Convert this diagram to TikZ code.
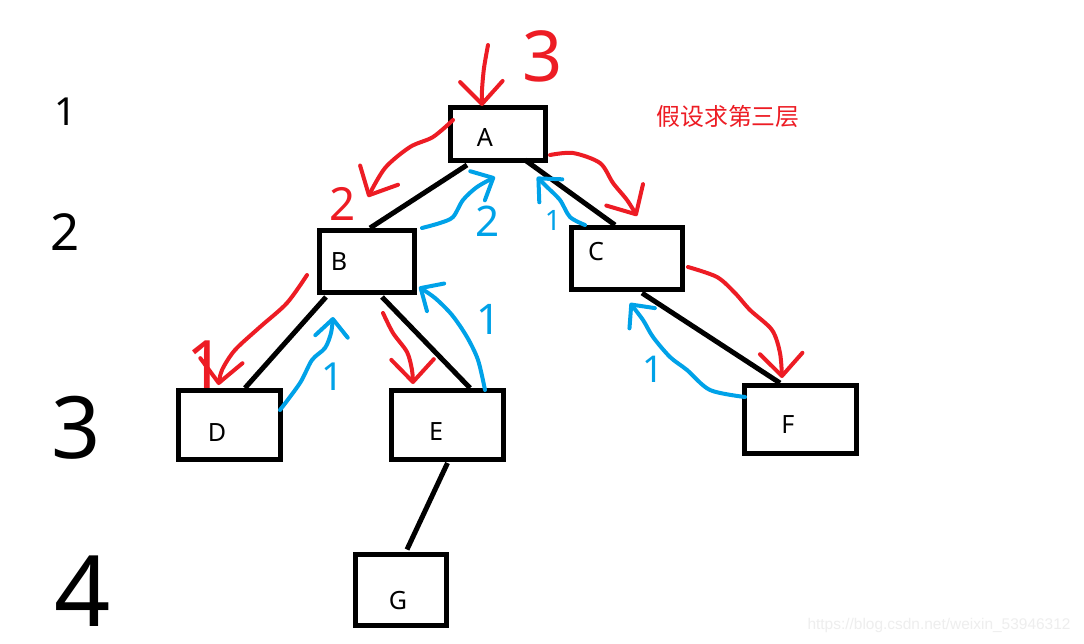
\documentclass[tikz,border=0pt]{standalone}
\usepackage{fontspec}
\usepackage{xcolor}
\usepackage{tikz}
\usetikzlibrary{arrows.meta, positioning, calc}
\setmainfont{Noto Sans}
\newfontfamily\cjkfont{Noto Sans CJK SC}
\newfontfamily\urlfont{Liberation Sans}
\definecolor{penred}{RGB}{237, 28, 36}
\definecolor{penblue}{RGB}{0, 162, 232}
\definecolor{marktext}{RGB}{238, 238, 238}

\begin{document}
\begin{tikzpicture}[x=0.02cm, y=-0.02cm,
    treebox/.style={draw, line width=0.1cm},
    boxletter/.style={font=\fontsize{14.3}{16}\selectfont, inner sep=0pt},
    edge/.style={line width=0.1cm},
    redpen/.style={draw=penred, line width=0.08cm, line cap=round, line join=round,
        -{Straight Barb[length=0.45cm, width=0.85cm, round]}},
    bluepen/.style={draw=penblue, line width=0.08cm, line cap=round, line join=round,
        -{Straight Barb[length=0.35cm, width=0.65cm, round]}},
    penmark/.style={font=\fontsize{#1}{#1}\selectfont, inner sep=0pt}]
    \path[use as bounding box, fill=white] (0,0) rectangle (1084,643);

    \node[treebox, minimum width=1.90cm, minimum height=1.06cm,
          label={[boxletter, shift={(-13,3)}]center:A}] (A) at (498,134) {};
    \node[treebox, minimum width=1.90cm, minimum height=1.24cm,
          label={[boxletter, shift={(-28,0.5)}]center:B}] (B) at (367,261.5) {};
    \node[treebox, minimum width=2.22cm, minimum height=1.24cm,
          label={[boxletter, shift={(-31,-6.5)}]center:C}] (C) at (627,258.5) {};
    \node[treebox, minimum width=2.04cm, minimum height=1.38cm,
          label={[boxletter, shift={(-12.5,8)}]center:D}] (D) at (229.5,425) {};
    \node[treebox, minimum width=2.24cm, minimum height=1.38cm,
          label={[boxletter, shift={(-11.5,7)}]center:E}] (E) at (447.5,425) {};
    \node[treebox, minimum width=2.24cm, minimum height=1.36cm,
          label={[boxletter, shift={(-12.5,5.5)}]center:F}] (F) at (800.5,419.5) {};
    \node[treebox, minimum width=1.82cm, minimum height=1.42cm,
          label={[boxletter, shift={(-3,11)}]center:G}] (G) at (401,589.5) {};

    \draw[edge] ([shift={(-31,2)}]A.south) -- ([shift={(3,0)}]B.north);
    \draw[edge] ([shift={(27,-3)}]A.south) -- ([shift={(-12,0)}]C.north);
    \draw[edge] ([shift={(-41,2)}]B.south) -- ([shift={(15.5,0)}]D.north);
    \draw[edge] ([shift={(15,2)}]B.south) -- ([shift={(22.5,0)}]E.north);
    \draw[edge] ([shift={(15,1)}]C.south) -- ([shift={(-20.5,0)}]F.north);
    \draw[edge] ([shift={(0,1)}]E.south) -- ([shift={(6,-2)}]G.north);

    % level numbers
    \node[penmark=22] (lvlone) at (66,112) {1};
    \node[penmark=29] (lvltwo) at (65,232) {2};
    \node[penmark=49] (lvlthree) at (76,428) {3};
    \node[penmark=56] (lvlfour) at (83,591) {4};

    \node[text=penred, font=\cjkfont\fontsize{13.6}{15}\selectfont] (goal) at (728,116) {假设求第三层};

    % going down
    \coordinate (start) at (488,45);
    \draw[redpen] plot[smooth] coordinates {(start) (484,68) (482,90) ([shift={(-16,1)}]A.north)};
    \draw[redpen] plot[smooth] coordinates {([shift={(5,-14)}]A.west) (433,137) (410,147) (385,168) ([shift={(1,-31)}]B.north)};
    \draw[redpen] plot[smooth] coordinates {([shift={(2,21)}]A.east) (573,153) (600,163) (613,183) (627,200) ([shift={(10,-9)}]C.north)};
    \draw[redpen] plot[smooth] coordinates {([shift={(-10,13.5)}]B.west) (287,303) (260,327) (235,350) (222,370) ([shift={(-11,-3)}]D.north)};
    \draw[redpen] plot[smooth] coordinates {([shift={(16,18)}]B.south) (393,333) (407,352) (412,370) ([shift={(-34.5,-4)}]E.north)};
    \draw[redpen] plot[smooth] coordinates {([shift={(3,8.5)}]C.east) (717,277) (735,293) (750,310) (772,330) (780,353) ([shift={(-18.5,-5)}]F.north)};
    \node[penmark=40, text=penred] (redthree) at (543,56) {3};
    \node[penmark=26, text=penred] (redtwo) at (343,204) {2};
    \node[penmark=38, text=penred] (redone) at (206,365) {1};

    % coming back
    \draw[bluepen] plot[smooth] coordinates {([shift={(-3,-15)}]D.east) (300,383) (312,360) (325,348) (331,333) ([shift={(-34,22)}]B.south)};
    \draw[bluepen] plot[smooth] coordinates {([shift={(37.5,2)}]E.north) (478,360) (467,337) (452,315) (435,298) ([shift={(2,-8)}]B.south east)};
    \draw[bluepen] plot[smooth] coordinates {([shift={(5,0)}]B.north east) (440,223) (453,217) (463,200) (477,187) ([shift={(-3,14)}]A.south)};
    \draw[bluepen] plot[smooth] coordinates {([shift={(-42,0)}]C.north) (570,217) (560,200) (547,187) ([shift={(39,14)}]A.south)};
    \draw[bluepen] plot[smooth] coordinates {([shift={(3,-22.5)}]F.west) (710,390) (687,370) (670,357) (653,337) (643,320) ([shift={(3,11)}]C.south)};
    \node[penmark=24, text=penblue] (bluetwo) at (488,221) {2};
    \node[penmark=16, text=penblue] (blueac) at (553,220) {1};
    \node[penmark=22, text=penblue] (bluedb) at (333,377) {1};
    \node[penmark=24, text=penblue] (blueeb) at (489,319) {1};
    \node[penmark=21, text=penblue] (bluefc) at (653,369) {1};

    \node[text=marktext, font=\urlfont\fontsize{8.8}{10}\selectfont] (source) at (939,625) {https://blog.csdn.net/weixin\_53946312};
\end{tikzpicture}
\end{document}
